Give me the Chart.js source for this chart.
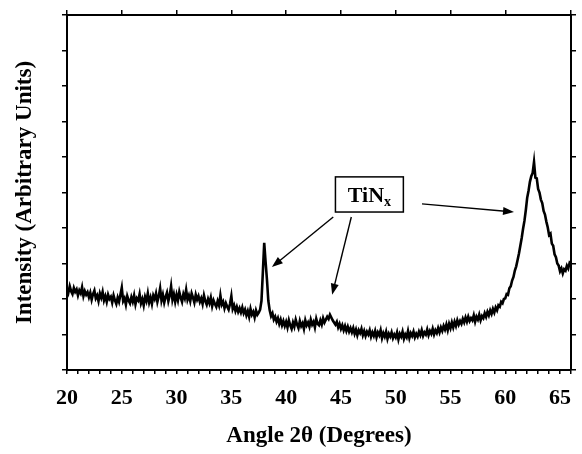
<!DOCTYPE html>
<html>
<head>
<meta charset="utf-8">
<script src="https://cdn.jsdelivr.net/npm/chart.js@4/dist/chart.umd.min.js"></script>
<style>
  body { margin: 0; background: #fff; }
  #wrap { width: 582px; height: 454px; position: relative; }
</style>
</head>
<body>
<div id="wrap"><canvas id="xrd_chart"></canvas></div>
<script>
// XRD scan (angle in degrees, intensity in arbitrary units 0-10)
var angles = [
  20, 20.125, 20.25, 20.375, 20.5, 20.625, 20.75, 20.875, 21, 21.125, 21.25, 21.375, 21.5, 21.625, 21.75, 21.875,
  22, 22.125, 22.25, 22.375, 22.5, 22.625, 22.75, 22.875, 23, 23.125, 23.25, 23.375, 23.5, 23.625, 23.75, 23.875,
  24, 24.125, 24.25, 24.375, 24.5, 24.625, 24.75, 24.875, 25, 25.125, 25.25, 25.375, 25.5, 25.625, 25.75, 25.875,
  26, 26.125, 26.25, 26.375, 26.5, 26.625, 26.75, 26.875, 27, 27.125, 27.25, 27.375, 27.5, 27.625, 27.75, 27.875,
  28, 28.125, 28.25, 28.375, 28.5, 28.625, 28.75, 28.875, 29, 29.125, 29.25, 29.375, 29.5, 29.625, 29.75, 29.875,
  30, 30.125, 30.25, 30.375, 30.5, 30.625, 30.75, 30.875, 31, 31.125, 31.25, 31.375, 31.5, 31.625, 31.75, 31.875,
  32, 32.125, 32.25, 32.375, 32.5, 32.625, 32.75, 32.875, 33, 33.125, 33.25, 33.375, 33.5, 33.625, 33.75, 33.875,
  34, 34.125, 34.25, 34.375, 34.5, 34.625, 34.75, 34.875, 35, 35.125, 35.25, 35.375, 35.5, 35.625, 35.75, 35.875,
  36, 36.125, 36.25, 36.375, 36.5, 36.625, 36.75, 36.875, 37, 37.125, 37.25, 37.375, 37.5, 37.625, 37.75, 37.875,
  38, 38.125, 38.25, 38.375, 38.5, 38.625, 38.75, 38.875, 39, 39.125, 39.25, 39.375, 39.5, 39.625, 39.75, 39.875,
  40, 40.125, 40.25, 40.375, 40.5, 40.625, 40.75, 40.875, 41, 41.125, 41.25, 41.375, 41.5, 41.625, 41.75, 41.875,
  42, 42.125, 42.25, 42.375, 42.5, 42.625, 42.75, 42.875, 43, 43.125, 43.25, 43.375, 43.5, 43.625, 43.75, 43.875,
  44, 44.125, 44.25, 44.375, 44.5, 44.625, 44.75, 44.875, 45, 45.125, 45.25, 45.375, 45.5, 45.625, 45.75, 45.875,
  46, 46.125, 46.25, 46.375, 46.5, 46.625, 46.75, 46.875, 47, 47.125, 47.25, 47.375, 47.5, 47.625, 47.75, 47.875,
  48, 48.125, 48.25, 48.375, 48.5, 48.625, 48.75, 48.875, 49, 49.125, 49.25, 49.375, 49.5, 49.625, 49.75, 49.875,
  50, 50.125, 50.25, 50.375, 50.5, 50.625, 50.75, 50.875, 51, 51.125, 51.25, 51.375, 51.5, 51.625, 51.75, 51.875,
  52, 52.125, 52.25, 52.375, 52.5, 52.625, 52.75, 52.875, 53, 53.125, 53.25, 53.375, 53.5, 53.625, 53.75, 53.875,
  54, 54.125, 54.25, 54.375, 54.5, 54.625, 54.75, 54.875, 55, 55.125, 55.25, 55.375, 55.5, 55.625, 55.75, 55.875,
  56, 56.125, 56.25, 56.375, 56.5, 56.625, 56.75, 56.875, 57, 57.125, 57.25, 57.375, 57.5, 57.625, 57.75, 57.875,
  58, 58.125, 58.25, 58.375, 58.5, 58.625, 58.75, 58.875, 59, 59.125, 59.25, 59.375, 59.5, 59.625, 59.75, 59.875,
  60, 60.125, 60.25, 60.375, 60.5, 60.625, 60.75, 60.875, 61, 61.125, 61.25, 61.375, 61.5, 61.625, 61.75, 61.875,
  62, 62.125, 62.25, 62.375, 62.5, 62.625, 62.75, 62.875, 63, 63.125, 63.25, 63.375, 63.5, 63.625, 63.75, 63.875,
  64, 64.125, 64.25, 64.375, 64.5, 64.625, 64.75, 64.875, 65, 65.125, 65.25, 65.375, 65.5, 65.625, 65.75, 65.875,
  66
];
var intensity = [
  2.30, 2.18, 2.36, 2.22, 2.14, 2.31, 2.20, 2.27, 2.10, 2.24, 2.16, 2.33, 2.08, 2.22, 2.12, 2.19,
  2.05, 2.18, 1.98, 2.14, 2.24, 2.02, 2.10, 1.94, 2.16, 2.04, 2.20, 1.96, 2.08, 1.92, 2.12, 2.00,
  2.06, 1.90, 2.10, 1.96, 1.86, 2.04, 1.92, 2.12, 2.32, 1.94, 2.02, 1.84, 2.08, 1.96, 1.88, 2.05,
  1.92, 2.10, 1.85, 2.02, 1.96, 2.14, 1.88, 2.00, 1.82, 2.06, 1.94, 2.16, 1.90, 2.04, 1.86, 2.10,
  2.00, 2.16, 1.92, 2.08, 2.30, 1.96, 2.12, 1.90, 2.06, 2.18, 1.94, 2.10, 2.36, 1.98, 2.14, 1.92,
  2.12, 1.96, 2.20, 2.04, 1.92, 2.14, 2.02, 2.26, 1.98, 2.10, 1.94, 2.16, 2.04, 1.90, 2.12, 1.98,
  2.08, 1.92, 2.02, 1.86, 2.10, 1.94, 1.84, 2.00, 1.88, 2.04, 1.80, 1.96, 1.86, 1.78, 1.94, 1.82,
  2.10, 1.84, 1.92, 1.74, 1.88, 1.78, 1.70, 1.86, 2.08, 1.72, 1.82, 1.66, 1.78, 1.64, 1.74, 1.62,
  1.76, 1.60, 1.70, 1.54, 1.66, 1.50, 1.72, 1.56, 1.64, 1.48, 1.68, 1.56, 1.62, 1.70, 1.95, 2.75,
  3.58, 3.05, 2.55, 1.95, 1.68, 1.52, 1.60, 1.42, 1.50, 1.36, 1.46, 1.30, 1.42, 1.26, 1.38, 1.24,
  1.36, 1.20, 1.40, 1.26, 1.16, 1.34, 1.22, 1.42, 1.28, 1.18, 1.38, 1.24, 1.32, 1.16, 1.40, 1.26,
  1.34, 1.22, 1.42, 1.28, 1.36, 1.20, 1.44, 1.30, 1.26, 1.40, 1.28, 1.46, 1.34, 1.42, 1.50, 1.44,
  1.56, 1.48, 1.40, 1.34, 1.28, 1.36, 1.20, 1.30, 1.16, 1.26, 1.12, 1.24, 1.10, 1.22, 1.08, 1.18,
  1.06, 1.18, 1.02, 1.14, 0.98, 1.12, 1.04, 1.16, 0.98, 1.10, 0.96, 1.08, 1.00, 1.12, 0.94, 1.06,
  0.96, 1.10, 0.92, 1.06, 0.98, 1.12, 0.90, 1.04, 0.94, 1.08, 0.88, 1.02, 0.94, 1.06, 0.90, 1.00,
  0.92, 1.06, 0.86, 1.02, 0.94, 1.08, 0.88, 1.00, 0.92, 1.10, 0.90, 1.04, 0.96, 1.08, 0.92, 1.02,
  0.94, 1.08, 0.98, 1.12, 0.96, 1.06, 1.00, 1.14, 0.98, 1.10, 1.02, 1.16, 1.00, 1.12, 1.04, 1.18,
  1.06, 1.20, 1.10, 1.24, 1.14, 1.28, 1.12, 1.30, 1.18, 1.34, 1.20, 1.36, 1.24, 1.40, 1.28, 1.38,
  1.30, 1.44, 1.34, 1.48, 1.36, 1.50, 1.38, 1.46, 1.40, 1.54, 1.36, 1.50, 1.42, 1.56, 1.40, 1.52,
  1.46, 1.60, 1.50, 1.64, 1.54, 1.68, 1.58, 1.72, 1.62, 1.76, 1.68, 1.82, 1.78, 1.92, 1.88, 2.00,
  2.02, 2.14, 2.12, 2.30, 2.36, 2.52, 2.62, 2.80, 2.92, 3.10, 3.28, 3.50, 3.72, 3.98, 4.20, 4.50,
  4.85, 5.05, 5.30, 5.46, 5.55, 5.86, 5.42, 5.40, 5.10, 5.00, 4.80, 4.70, 4.48, 4.38, 4.18, 4.02,
  3.80, 3.84, 3.56, 3.50, 3.26, 3.18, 3.00, 2.94, 2.78, 2.86, 2.72, 2.84, 2.80, 2.94, 2.86, 3.02,
  2.98
];

var xLabel = 'Angle 2\u03b8 (Degrees)';
var yLabel = 'Intensity (Arbitrary Units)';

// label box and arrows, in data units
var peakLabel = { text: 'TiN', sub: 'x', x0: 44.5, x1: 50.7, y0: 4.45, y1: 5.44 };
var peakArrows = [
  { fromX: 44.3, fromY: 4.31, toX: 38.7, toY: 2.90 },
  { fromX: 45.95, fromY: 4.31, toX: 44.2, toY: 2.12 },
  { fromX: 52.4, fromY: 4.68, toX: 60.8, toY: 4.45 }
];

var serif = "'Liberation Serif', 'Times New Roman', serif";

function drawArrow(ctx, x1, y1, x2, y2) {
  var ang = Math.atan2(y2 - y1, x2 - x1);
  var len = 11, half = 4;
  ctx.beginPath();
  ctx.moveTo(x1, y1);
  ctx.lineTo(x2 - Math.cos(ang) * len * 0.8, y2 - Math.sin(ang) * len * 0.8);
  ctx.stroke();
  ctx.beginPath();
  ctx.moveTo(x2, y2);
  ctx.lineTo(x2 - Math.cos(ang) * len - Math.sin(ang) * half, y2 - Math.sin(ang) * len + Math.cos(ang) * half);
  ctx.lineTo(x2 - Math.cos(ang) * len + Math.sin(ang) * half, y2 - Math.sin(ang) * len - Math.cos(ang) * half);
  ctx.closePath();
  ctx.fill();
}

var annotationPlugin = {
  id: 'peakNotes',
  afterDatasetsDraw: function(chart) {
    var ctx = chart.ctx;
    var sx = chart.scales.x, sy = chart.scales.y;
    ctx.save();
    ctx.strokeStyle = '#000';
    ctx.fillStyle = '#000';
    ctx.lineWidth = 1.5;

    var bx0 = sx.getPixelForValue(peakLabel.x0), bx1 = sx.getPixelForValue(peakLabel.x1);
    var by0 = sy.getPixelForValue(peakLabel.y1), by1 = sy.getPixelForValue(peakLabel.y0);
    ctx.fillStyle = '#fff';
    ctx.fillRect(bx0, by0, bx1 - bx0, by1 - by0);
    ctx.fillStyle = '#000';
    ctx.strokeRect(bx0, by0, bx1 - bx0, by1 - by0);

    ctx.font = 'bold 22px ' + serif;
    var w1 = ctx.measureText(peakLabel.text).width;
    ctx.font = 'bold 14px ' + serif;
    var w2 = ctx.measureText(peakLabel.sub).width;
    var tx = (bx0 + bx1) / 2 - (w1 + w2) / 2;
    var base = (by0 + by1) / 2 + 8;
    ctx.textBaseline = 'alphabetic';
    ctx.font = 'bold 22px ' + serif;
    ctx.fillText(peakLabel.text, tx, base);
    ctx.font = 'bold 14px ' + serif;
    ctx.fillText(peakLabel.sub, tx + w1, base + 4);

    ctx.lineWidth = 1.4;
    peakArrows.forEach(function(a) {
      drawArrow(ctx, sx.getPixelForValue(a.fromX), sy.getPixelForValue(a.fromY),
                sx.getPixelForValue(a.toX), sy.getPixelForValue(a.toY));
    });
    ctx.restore();
  }
};

var points = angles.map(function(a, i) { return { x: a, y: intensity[i] }; });

var axisGrid = { drawOnChartArea: false, color: '#000', lineWidth: 1.5, tickLength: 5 };
var axisBorder = { color: '#000', width: 2 };

var ctx = document.getElementById('xrd_chart').getContext('2d');
var xrdChart = new Chart(ctx, {
  type: 'line',
  data: {
    datasets: [{
      data: points,
      borderColor: '#000',
      borderWidth: 2.6,
      pointRadius: 0,
      tension: 0,
      xAxisID: 'x',
      yAxisID: 'y'
    }]
  },
  options: {
    animation: false,
    responsive: true,
    maintainAspectRatio: false,
    devicePixelRatio: 1,
    layout: { padding: 0 },
    plugins: { legend: { display: false }, tooltip: { enabled: false } },
    scales: {
      x: {
        type: 'linear', position: 'bottom', min: 20, max: 66,
        grid: { drawOnChartArea: false, color: '#000', lineWidth: 1.5, tickLength: 4 },
        border: axisBorder,
        ticks: {
          stepSize: 1, autoSkip: false, maxRotation: 0, padding: 11, color: '#000',
          font: { family: serif, size: 22, weight: 'bold' },
          callback: function(v) { return (v % 5 === 0 && v <= 65) ? String(v) : ''; }
        },
        title: { display: true, text: xLabel, color: '#000', padding: { top: 0, bottom: 4 },
                 font: { family: serif, size: 23, weight: 'bold' } },
        afterFit: function(s) { s.height = 84; }
      },
      xTop: {
        type: 'linear', position: 'top', min: 20, max: 66,
        grid: axisGrid, border: axisBorder,
        ticks: { stepSize: 5, display: false },
        afterFit: function(s) { s.height = 15; }
      },
      y: {
        type: 'linear', position: 'left', min: 0, max: 10,
        grid: axisGrid, border: axisBorder,
        ticks: { stepSize: 1, display: false },
        title: { display: true, text: yLabel, color: '#000', padding: { top: 11, bottom: 0 },
                 font: { family: serif, size: 23, weight: 'bold' } },
        afterFit: function(s) { s.width = 67; }
      },
      yRight: {
        type: 'linear', position: 'right', min: 0, max: 10,
        grid: axisGrid, border: axisBorder,
        ticks: { stepSize: 1, display: false },
        afterFit: function(s) { s.width = 10; }
      }
    }
  },
  plugins: [annotationPlugin]
});
</script>
</body>
</html>
